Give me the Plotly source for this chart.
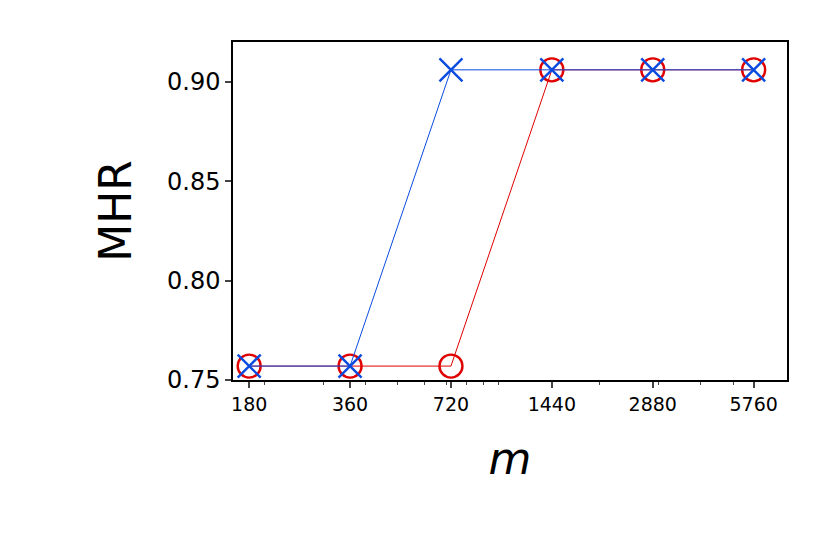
import plotly.graph_objects as go

m_vals = [180, 360, 720, 1440, 2880, 5760]
red_vals = [0.757, 0.757, 0.757, 0.906, 0.906, 0.906]
blue_vals = [0.757, 0.757, 0.906, 0.906, 0.906, 0.906]
tick_labels = ["180", "360", "720", "1440", "2880", "5760"]

fig = go.Figure()
fig.add_trace(go.Scatter(x=m_vals, y=red_vals, mode="lines+markers",
    line=dict(color="#e00000", width=1),
    marker=dict(symbol="circle-open", size=23, color="#e00000", line=dict(width=2.4))))
fig.add_trace(go.Scatter(x=m_vals, y=blue_vals, mode="lines+markers",
    line=dict(color="#0a4be0", width=1),
    marker=dict(symbol="x-thin-open", size=23, color="#0a4be0", line=dict(width=2.4, color="#0a4be0"))))

fig.update_layout(width=830, height=554, showlegend=False,
    margin=dict(l=225, r=51, t=34, b=182),
    plot_bgcolor="white", paper_bgcolor="white",
    font=dict(family="DejaVu Sans", color="black"))
fig.update_xaxes(type="log", range=[2.207, 3.860], tickvals=m_vals, ticktext=tick_labels,
    tickfont=dict(size=19), ticks="outside", ticklen=6, tickwidth=1.5,
    minor=dict(ticks="outside", ticklen=3, tickwidth=1, tickvals=[200,300,400,500,600,700,800,900,1000,2000,3000,4000,5000]),
    showgrid=False, showline=True, linecolor="black", linewidth=1.5, mirror=True,
    title=dict(text="<i>m</i>", font=dict(size=44), standoff=30))
fig.update_yaxes(range=[0.75, 0.92], tickvals=[0.75, 0.80, 0.85, 0.90],
    ticktext=["0.75", "0.80", "0.85", "0.90"], tickfont=dict(size=24),
    ticks="outside", ticklen=6, tickwidth=1.5,
    showgrid=False, showline=True, linecolor="black", linewidth=1.5, mirror=True, zeroline=False,
    title=dict(text="MHR", font=dict(size=44), standoff=22))
fig.write_html("out.html")
